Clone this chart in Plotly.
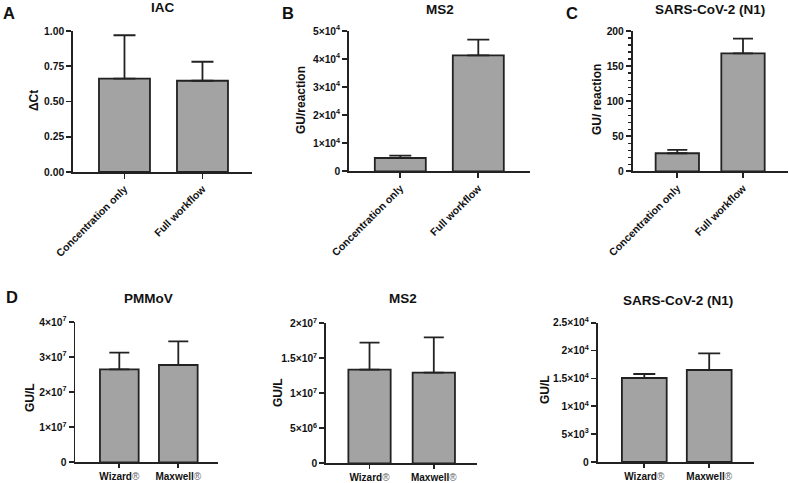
import plotly.graph_objects as go

# ---------------- data ----------------
cats_top = ["Concentration only", "Full workflow"]
cats_bottom = ["Wizard®", "Maxwell®"]

iac_mean = [0.662, 0.647]
iac_err = [0.308, 0.135]

ms2_top_mean = [4740, 41340]
ms2_top_err = [820, 5560]

n1_top_mean = [25.7, 168.2]
n1_top_err = [4.7, 20.8]

pmmov_mean = [2.65e7, 2.774e7]
pmmov_err = [0.475e7, 0.676e7]

ms2_bot_mean = [1.337e7, 1.294e7]
ms2_bot_err = [0.386e7, 0.506e7]

n1_bot_mean = [15075, 16510]
n1_bot_err = [715, 3000]

titles = ["IAC", "MS2", "SARS-CoV-2 (N1)", "PMMoV", "MS2", "SARS-CoV-2 (N1)"]
ytitles = ["ΔCt", "GU/reaction", "GU/ reaction", "GU/L", "GU/L", "GU/L"]
letters = ["A", "B", "C", "D"]

ticks_A = [0, 0.25, 0.5, 0.75, 1.0]
ticktext_A = ["0.00", "0.25", "0.50", "0.75", "1.00"]
ticks_B = [0, 1e4, 2e4, 3e4, 4e4, 5e4]
ticktext_B = ["0", "1×10<sup>4</sup>", "2×10<sup>4</sup>", "3×10<sup>4</sup>", "4×10<sup>4</sup>", "5×10<sup>4</sup>"]
ticks_C = [0, 50, 100, 150, 200]
ticktext_C = ["0", "50", "100", "150", "200"]
ticks_D = [0, 1e7, 2e7, 3e7, 4e7]
ticktext_D = ["0", "1×10<sup>7</sup>", "2×10<sup>7</sup>", "3×10<sup>7</sup>", "4×10<sup>7</sup>"]
ticks_E = [0, 5e6, 1e7, 1.5e7, 2e7]
ticktext_E = ["0", "5×10<sup>6</sup>", "1×10<sup>7</sup>", "1.5×10<sup>7</sup>", "2×10<sup>7</sup>"]
ticks_F = [0, 5e3, 1e4, 1.5e4, 2e4, 2.5e4]
ticktext_F = ["0", "5×10<sup>3</sup>", "1×10<sup>4</sup>", "1.5×10<sup>4</sup>", "2×10<sup>4</sup>", "2.5×10<sup>4</sup>"]

# ---------------- layout helpers ----------------
W, H = 789, 483
FONT = "Liberation Sans, Arial, sans-serif"
AX = "#222222"
FILL = "#a3a3a3"


def xd(a, b):
    return [a / W, b / W]


def yd(top, bottom):
    return [1 - bottom / H, 1 - top / H]


def cat_label(c):
    if c.endswith("®"):
        return c[:-1] + "<span style='font-weight:normal;color:#666666'>®</span>"
    return c


panels = [
    # cats, mean, err, xdom(px), ydom(px top,bottom), xrange, barwidth, yrange, tickvals, ticktext, angle, capw, minor
    (cats_top, iac_mean, iac_err, (73, 252), (31, 172), [-0.66, 1.635], 0.654, [0, 1], ticks_A, ticktext_A, -45, 11, None),
    (cats_top, ms2_top_mean, ms2_top_err, (349, 530), (31, 171.3), [-0.658, 1.663], 0.654, [0, 5e4], ticks_B, ticktext_B, -45, 11, None),
    (cats_top, n1_top_mean, n1_top_err, (632.7, 788), (31, 171.3), [-0.679, 1.685], 0.66, [0, 200], ticks_C, ticktext_C, -45, 10, 10),
    (cats_bottom, pmmov_mean, pmmov_err, (75.3, 218), (322, 462.3), [-0.746, 1.673], 0.656, [0, 4e7], ticks_D, ticktext_D, 0, 10, None),
    (cats_bottom, ms2_bot_mean, ms2_bot_err, (326, 477), (323.3, 463.3), [-0.677, 1.672], 0.658, [0, 2e7], ticks_E, ticktext_E, 0, 10, None),
    (cats_bottom, n1_bot_mean, n1_bot_err, (597.7, 754), (322.7, 462), [-0.718, 1.69], 0.69, [0, 2.5e4], ticks_F, ticktext_F, 0, 11, None),
]

fig = go.Figure()
layout = dict(
    width=W, height=H,
    margin=dict(l=0, r=0, t=0, b=0, pad=0, autoexpand=False),
    paper_bgcolor="white", plot_bgcolor="white",
    showlegend=False,
    font=dict(family=FONT, color="#111111"),
)

for i, (cats, mean, err, xdp, ydp, xr, bw, yr, tv, tt, ang, capw, minor) in enumerate(panels):
    n = i + 1
    xa = "x" if n == 1 else f"x{n}"
    ya = "y" if n == 1 else f"y{n}"
    fig.add_trace(go.Bar(
        x=cats, y=mean, width=[bw] * len(cats),
        marker=dict(color=FILL, line=dict(color=AX, width=1.8)),
        error_y=dict(type="data", array=err, arrayminus=[0] * len(err), symmetric=False,
                     color=AX, thickness=1.8, width=capw),
        xaxis=xa, yaxis=ya, hoverinfo="skip",
    ))
    xkey = "xaxis" if n == 1 else f"xaxis{n}"
    ykey = "yaxis" if n == 1 else f"yaxis{n}"
    layout[xkey] = dict(
        domain=xd(*xdp), anchor=ya, type="category", categoryorder="array", categoryarray=cats,
        tickvals=cats, ticktext=[cat_label(c) for c in cats],
        range=xr, showgrid=False, zeroline=False, showline=True, linecolor=AX, linewidth=1.8,
        ticks="outside", ticklen=5 if ang else 4, tickwidth=1.8, tickcolor=AX, tickangle=ang,
        tickfont=dict(family=FONT, size=10.5 if ang else 10, weight="bold", color="#111111"),
        fixedrange=True, automargin=False,
    )
    ydict = dict(
        domain=yd(*ydp), anchor=xa, range=yr, showgrid=False, zeroline=False,
        showline=True, linecolor=AX, linewidth=1.8,
        ticks="outside", ticklen=5, tickwidth=1.8, tickcolor=AX,
        tickvals=tv, ticktext=tt,
        tickfont=dict(family=FONT, size=10.3, weight="bold", color="#111111"),
        fixedrange=True, automargin=False,
    )
    if minor:
        ydict["minor"] = dict(dtick=minor, ticks="outside", ticklen=3, tickwidth=1.2, tickcolor=AX, showgrid=False)
    layout[ykey] = ydict

fig.update_layout(**layout)

# titles
title_pos = [(162.5, 8), (440, 9), (710, 10), (148, 298), (403, 298), (678, 300)]
for t, (px, py) in zip(titles, title_pos):
    fig.add_annotation(text=f"<b>{t}</b>", x=px / W, y=1 - py / H, xref="paper", yref="paper",
                       showarrow=False, font=dict(family=FONT, size=13.5, color="#111111"),
                       xanchor="center", yanchor="middle")

# y-axis titles
ytitle_pos = [(34, 101), (301, 100), (597, 100), (30, 398), (278, 393), (545, 390)]
for t, (px, py) in zip(ytitles, ytitle_pos):
    fig.add_annotation(text=f"<b>{t}</b>", x=px / W, y=1 - py / H, xref="paper", yref="paper",
                       showarrow=False, textangle=-90, font=dict(family=FONT, size=12, color="#111111"),
                       xanchor="center", yanchor="middle")

# panel letters
letter_pos = [(9, 13), (287.5, 13), (572, 13), (12, 297)]
for t, (px, py) in zip(letters, letter_pos):
    fig.add_annotation(text=f"<b>{t}</b>", x=px / W, y=1 - py / H, xref="paper", yref="paper",
                       showarrow=False, font=dict(family=FONT, size=16.5, color="#111111"),
                       xanchor="center", yanchor="middle")

fig.write_html("out.html", config={"displayModeBar": False, "staticPlot": True},
               post_script="document.body.style.margin='0';document.body.style.overflow='hidden';")
